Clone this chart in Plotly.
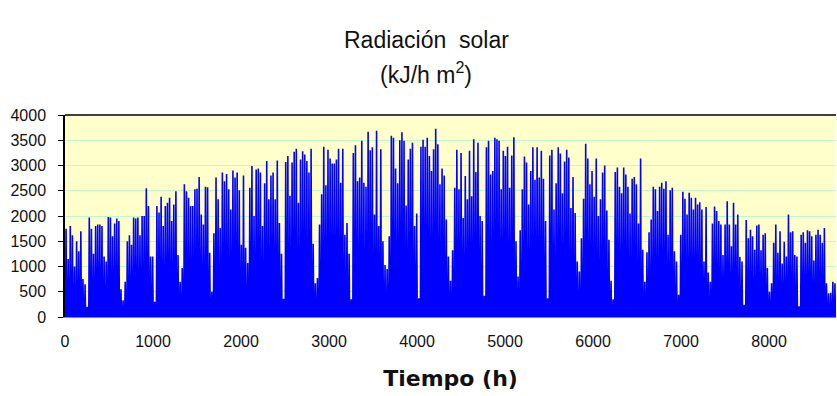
import plotly.graph_objects as go

# Daily peak of hourly solar radiation (kJ/h m2), one value per day of the year
PEAK_JAN_FEB = [1750, 1150, 1800, 1620, 1000, 1500, 1300, 1700, 750, 650, 200, 1970, 1750, 1250,
                1800, 1830, 1830, 1800, 1200, 1100, 1980, 1970, 1600, 1850, 1950, 1900, 550, 330,
                700, 1500, 1620, 1430, 1970, 1950, 1970, 1620, 2000, 2000, 2550, 2200, 1200, 1200,
                300, 2200, 2070, 2380]
PEAK_FEB_MAR = [1800, 2200, 2260, 2360, 1900, 2230, 2490, 1230, 700, 970, 2630, 2490, 2360, 2200,
                2200, 2530, 2540, 2770, 2030, 1830, 2580, 2570, 1270, 500, 1660, 2760, 2330, 1760,
                2860, 2690, 2830, 2530, 2130, 2900, 2760, 2860, 2510, 1430, 2800, 1370, 1070, 2560,
                2990, 2000, 2920]
PEAK_APR_MAY = [2940, 2860, 1800, 2650, 3090, 2330, 2800, 2860, 2330, 3100, 1860, 1250, 360, 3070,
                3190, 2400, 3060, 3270, 3330, 2260, 3120, 3280, 3220, 3090, 2860, 3330, 1450, 670,
                770, 1830, 2430, 3370, 2610, 3310, 3140, 3040, 3040, 3120, 3330, 2660, 3330, 1630,
                1860, 1250, 350]
PEAK_MAY_JUN = [3250, 3400, 2690, 2760, 3490, 2660, 2580, 3670, 3300, 3360, 2030, 3690, 1800, 3320,
                1500, 1030, 950, 1600, 3590, 3550, 2940, 2650, 3500, 3660, 3490, 2210, 3120, 3330,
                3450, 1800, 2050, 370, 3370, 3510, 3370, 3550, 3190, 2890, 3320, 3730, 3420, 2630,
                2940, 2800, 1930]
PEAK_JUL_AUG = [1200, 720, 1320, 2560, 3310, 2530, 3250, 1960, 2790, 2330, 3290, 2390, 3520, 2870,
                3450, 2000, 1900, 420, 3360, 3490, 2820, 2890, 3550, 3520, 3490, 2530, 3290, 3190,
                3370, 2560, 3200, 3560, 1500, 800, 1720, 2530, 3180, 3060, 2230, 2890, 3360, 2720,
                3360, 2760, 3290]
PEAK_AUG_SEP = [2740, 1900, 370, 3200, 3310, 2130, 2650, 3360, 3240, 2450, 3080, 3310, 3160, 2160,
                2770, 2060, 1100, 900, 1560, 2340, 3430, 3140, 2630, 2890, 2380, 3140, 2000, 2330,
                2860, 3000, 2110, 1530, 720, 350, 2870, 2960, 2580, 2450, 2960, 2820, 2580, 2050,
                2740, 2770, 2630]
PEAK_SEP_NOV = [1850, 3140, 1330, 700, 1280, 1680, 1930, 2580, 2530, 2100, 2580, 2660, 2540, 2690,
                1630, 2510, 2560, 1300, 1100, 440, 1630, 2480, 2340, 2030, 2460, 2360, 2130, 2360,
                2230, 2270, 2130, 1100, 2180, 880, 700, 1850, 2190, 2100, 1900, 1830, 1230, 1830,
                2290, 1830, 1400]
PEAK_NOV_DEC = [2260, 1830, 2030, 1190, 1100, 240, 1920, 1560, 1730, 1600, 1330, 1810, 1830, 1320,
                1630, 1660, 970, 500, 670, 1470, 1830, 1270, 1700, 1060, 1490, 1200, 2030, 1680,
                1700, 1230, 1200, 210, 1630, 1680, 1470, 1720, 1700, 1600, 1120, 1630, 1730, 1630,
                1470, 1760, 670, 470, 480, 700, 670]

DAILY_PEAK = (PEAK_JAN_FEB + PEAK_FEB_MAR + PEAK_APR_MAY + PEAK_MAY_JUN +
              PEAK_JUL_AUG + PEAK_AUG_SEP + PEAK_SEP_NOV + PEAK_NOV_DEC)

HOURS_PER_DAY = 24
SUNRISE, NOON, SUNSET = 6, 12, 18

X_TICKS = [0, 1000, 2000, 3000, 4000, 5000, 6000, 7000, 8000]
Y_TICKS = [0, 500, 1000, 1500, 2000, 2500, 3000, 3500, 4000]

# Hourly series: zero at night, rising to the daily peak at noon
hours, radiation = [], []
for day, peak in enumerate(DAILY_PEAK):
    base = day * HOURS_PER_DAY
    hours += [base + SUNRISE, base + NOON, base + SUNSET]
    radiation += [0, peak, 0]

fig = go.Figure()
fig.add_trace(go.Scatter(
    x=hours, y=radiation, mode="lines",
    line=dict(color="#0000ff", width=1.6),
    hoverinfo="skip", showlegend=False,
))

font = "Liberation Sans, Arial, sans-serif"
title_x = (426 - 65) / 771

fig.update_layout(
    width=837, height=396,
    margin=dict(l=65, r=1, t=115, b=79),
    paper_bgcolor="white",
    plot_bgcolor="#ffffcc",
    font=dict(family=font, size=16, color="#111111"),
    xaxis=dict(
        range=[0, len(DAILY_PEAK) * HOURS_PER_DAY],
        tickvals=X_TICKS, ticks="outside", ticklen=10, tickcolor="rgba(0,0,0,0)",
        showgrid=False, zeroline=False,
        showline=True, linecolor="#8c8c8c", linewidth=1,
        tickfont=dict(size=16),
        title=dict(text="<b>Tiempo (h)</b>",
                   font=dict(family="DejaVu Sans, Liberation Sans, sans-serif", size=22),
                   standoff=21),
    ),
    yaxis=dict(
        range=[0, 4000],
        tickvals=Y_TICKS, ticks="outside", ticklen=5, tickcolor="black",
        ticklabelstandoff=9,
        showgrid=True, gridcolor="#c4f7cc", gridwidth=1,
        zeroline=False,
        showline=True, linecolor="black", linewidth=1.5,
        tickfont=dict(size=16),
    ),
    shapes=[dict(type="line", xref="paper", yref="paper", x0=0, x1=1, y0=1, y1=1,
                 line=dict(color="black", width=1.5))],
    annotations=[
        dict(text="Radiación  solar", xref="paper", yref="paper",
             x=title_x, y=1, yshift=75, showarrow=False,
             xanchor="center", yanchor="middle", font=dict(size=23)),
        dict(text="(kJ/h m<sup>2</sup>)", xref="paper", yref="paper",
             x=title_x, y=1, yshift=42, showarrow=False,
             xanchor="center", yanchor="middle", font=dict(size=23)),
    ],
)

fig.write_html("out.html")
